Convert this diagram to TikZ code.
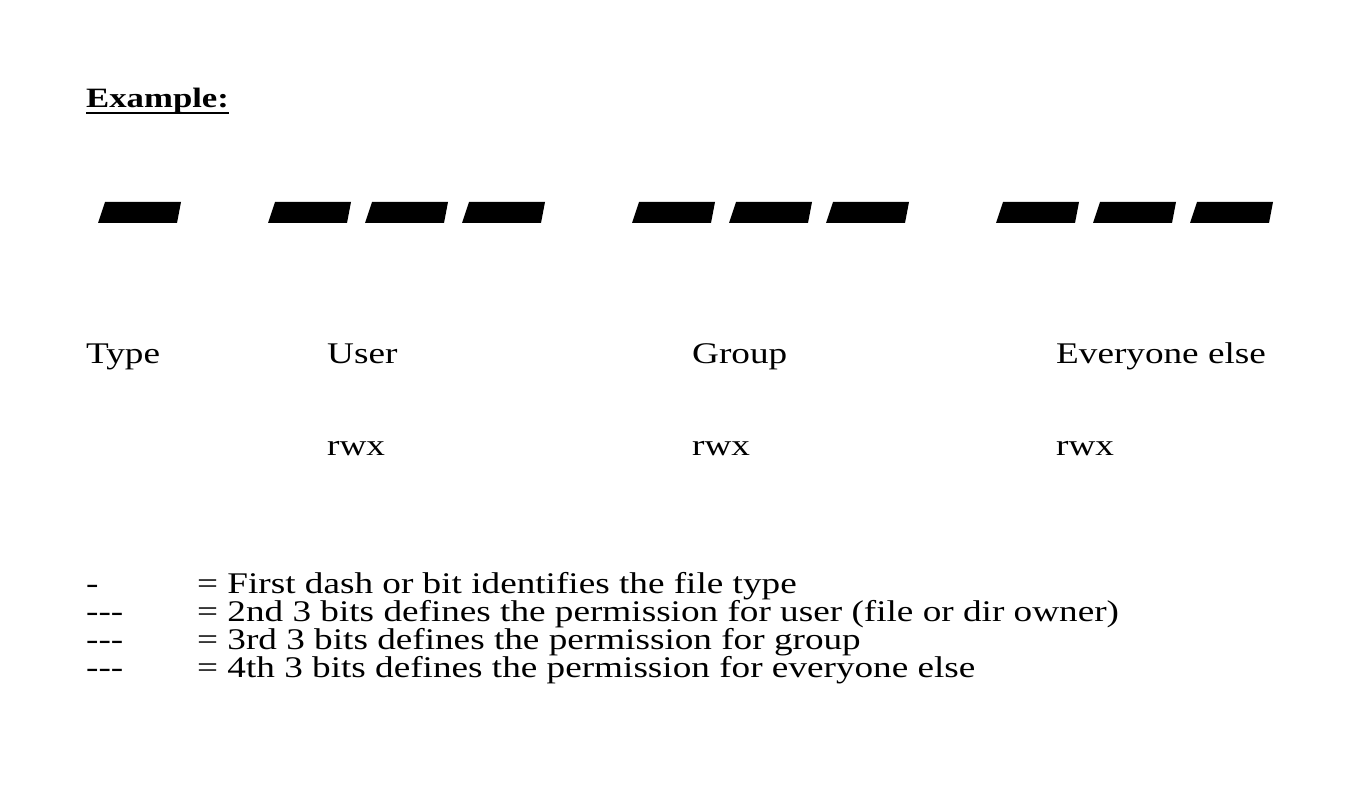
\documentclass[tikz,border=0pt]{standalone}
\usepackage{fontspec}
\setmainfont[FakeStretch=1.24]{Liberation Serif}
\usepackage{tikz}
\usetikzlibrary{positioning}

\begin{document}
\begin{tikzpicture}[
		x=1pt,y=-1pt,
		txt/.style={
			anchor=base west,
			inner sep=0pt,
			font=\fontsize{30}{33}\selectfont
		},
		bitdash/.style={
			fill=black
		}
		]
		
		\useasboundingbox (0,0) rectangle (1352,802);
		
		% heading
		\node[txt, font=\fontsize{28}{31}\selectfont\bfseries] at (86,108) (ex) {Example:};
		\draw[line width=1.6pt] ([yshift=-5pt]ex.base west) -- ([yshift=-5pt]ex.base east);
		
		% the ten bits
		\foreach \x in {98,268,365,462,632,729,826,996,1093,1190}
		\fill[bitdash] (\x,223) -- (\x+79,223) -- (\x+83,202) -- (\x+7,202) -- cycle;
		
		% labels
		\node[txt] at (86,363) (type) {Type};
		\node[txt] at (327,363) (user) {User};
		\node[txt] at (692,363) (group) {Group};
		\node[txt] at (1056,363) (other) {Everyone else};
		
		\node[txt] at (327,455) (rwxu) {rwx};
		\node[txt] at (692,455) (rwxg) {rwx};
		\node[txt] at (1056,455) (rwxo) {rwx};
		
		% legend
		\node[txt] at (86,593) (ka) {-};
		\node[txt] at (86,621) (kb) {-\kern0pt-\kern0pt-};
		\node[txt] at (86,649) (kc) {-\kern0pt-\kern0pt-};
		\node[txt] at (86,677) (kd) {-\kern0pt-\kern0pt-};
		
		\node[txt] at (197,593) (va) {= First dash or bit identifies the file type};
		\node[txt] at (197,621) (vb) {= 2nd 3 bits defines the permission for user (file or dir owner)};
		\node[txt] at (197,649) (vc) {= 3rd 3 bits defines the permission for group};
		\node[txt] at (197,677) (vd) {= 4th 3 bits defines the permission for everyone else};
		
		\end{tikzpicture}
\end{document}
